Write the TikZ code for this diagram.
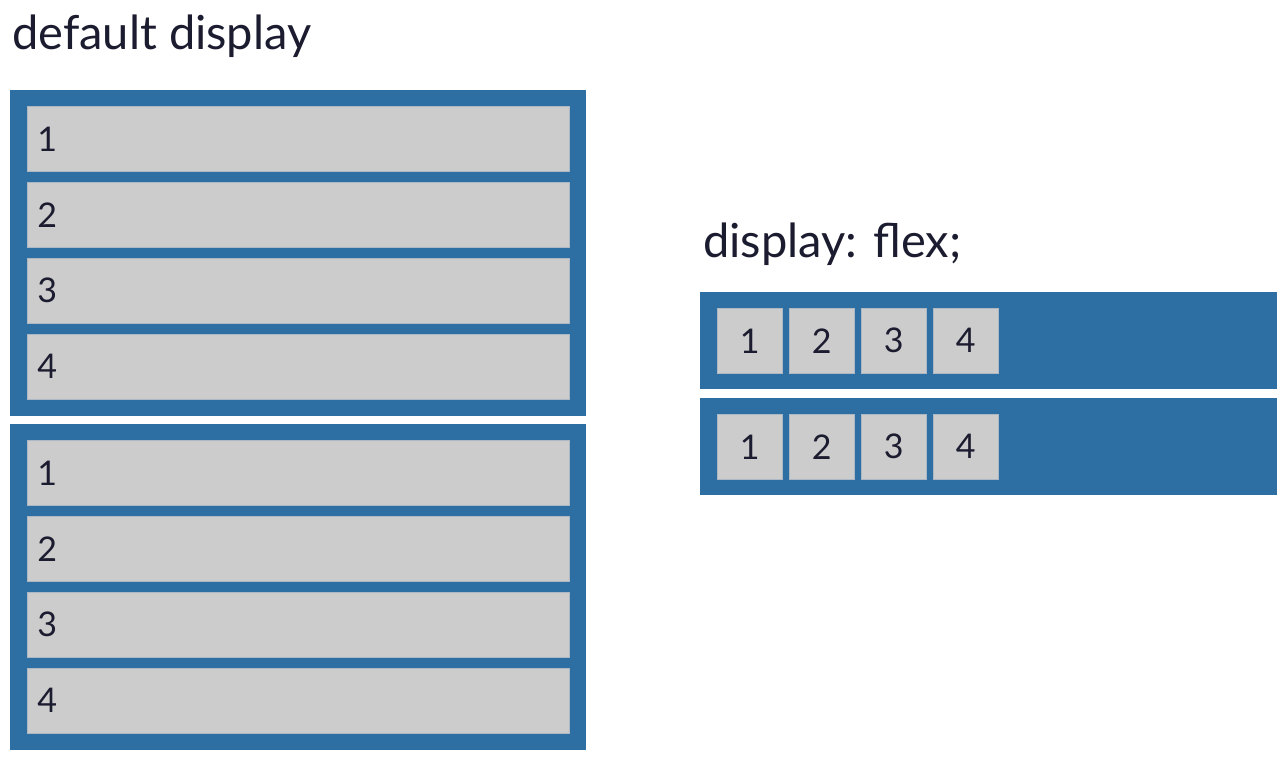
\documentclass[tikz,border=0pt]{standalone}
\usepackage{fontspec}
\setmainfont{Lato}
\usetikzlibrary{positioning}
\definecolor{flexblue}{RGB}{46, 111, 163}
\definecolor{itemgray}{RGB}{204, 204, 204}
\definecolor{inkdark}{RGB}{28, 28, 48}

\begin{document}
\begin{tikzpicture}[
    x=1pt, y=-1pt,
    container/.style={fill=flexblue, anchor=north west, inner sep=0pt},
    rowitem/.style={fill=itemgray, draw=itemgray!80!flexblue, line width=0.6pt, anchor=north west, inner xsep=10pt, inner ysep=0pt, text width=522pt, minimum height=65pt, align=left, font=\fontsize{34}{40}\selectfont, text=inkdark},
    flexitem/.style={fill=itemgray, draw=itemgray!80!flexblue, line width=0.6pt, anchor=north west, inner sep=0pt, minimum width=65pt, minimum height=65pt, font=\fontsize{34}{40}\selectfont, text=inkdark},
    title/.style={anchor=base west, inner sep=0pt, font=\fontsize{47}{56}\selectfont, text=inkdark}
]
    \useasboundingbox[fill=white] (0,0) rectangle (1288,762);

    % Titel
    \node[title] (deftitle) at (12,50) {default display};
    \node[title] (flextitle) at (703,258) {display: flex;};

    % default display: zwei Container, Elemente untereinander
    \node[container, minimum width=576pt, minimum height=326pt] (def1) at (10,90) {};
    \node[container, minimum width=576pt, minimum height=326pt] (def2) at (10,424) {};
    \foreach \c/\top in {1/90, 2/424} {
        \foreach \i in {1,...,4} {
            \node[rowitem] (def\c item\i) at (27,{\top+16+76*(\i-1)}) {\i};
        }
    }

    % display: flex: zwei Container, Elemente nebeneinander
    \node[container, minimum width=577pt, minimum height=97pt] (flex1) at (700,292) {};
    \node[container, minimum width=577pt, minimum height=97pt] (flex2) at (700,398) {};
    \foreach \c/\top in {1/292, 2/398} {
        \foreach \i in {1,...,4} {
            \node[flexitem] (flex\c item\i) at ({717+72*(\i-1)},{\top+16}) {\i};
        }
    }
\end{tikzpicture}
\end{document}
